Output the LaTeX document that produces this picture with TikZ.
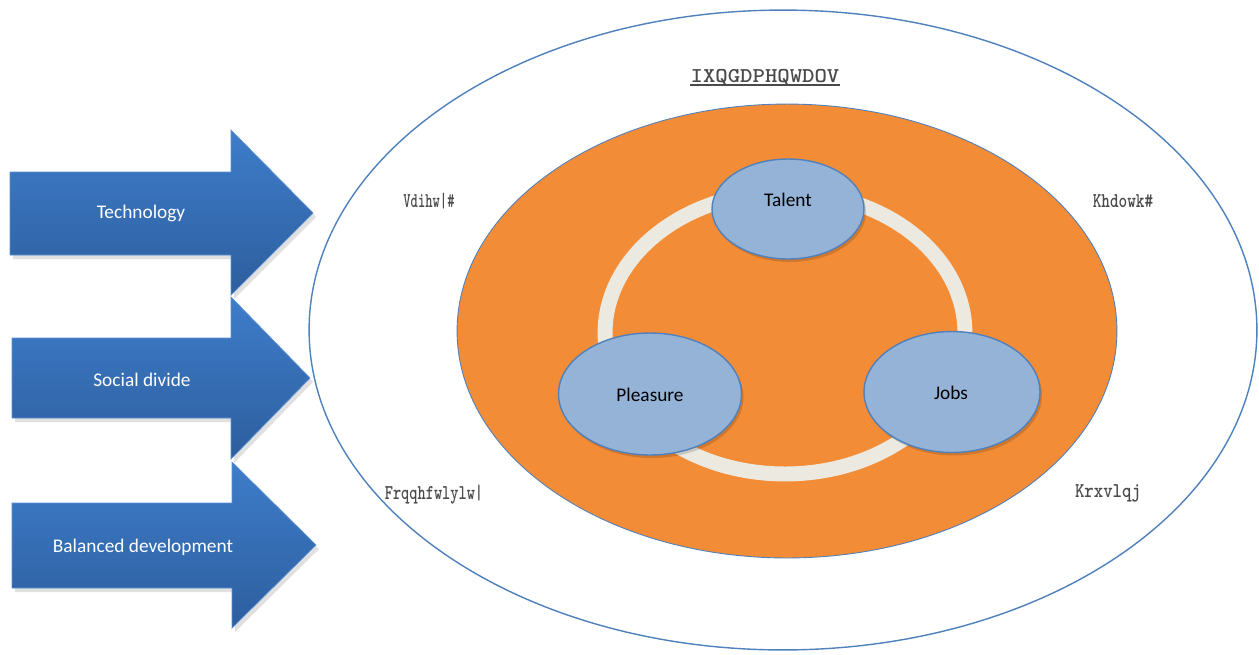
\documentclass[tikz,border=0pt]{standalone}
\usepackage{fontspec}
\setmainfont{Carlito}
\usetikzlibrary{shapes.geometric}
\definecolor{orng}{HTML}{F38C36}
\definecolor{bluefill}{HTML}{95B3D7}
\definecolor{blueline}{HTML}{4F81BD}
\definecolor{arrtop}{HTML}{3E7DCA}
\definecolor{arrbot}{HTML}{2D5E9E}
\definecolor{ringc}{HTML}{ECEAE0}
\definecolor{labgray}{HTML}{4A4A4A}
\begin{document}
\begin{tikzpicture}[x=0.02cm,y=-0.02cm,
  font=\fontsize{11}{13}\selectfont,
  arrowbody/.style={top color=arrtop,bottom color=arrbot,draw=arrtop!85!white,line width=0.4pt},
  arrshadow/.style={fill=black,opacity=0.12},
  arrtext/.style={text=white,inner sep=0pt},
  bubble/.style={ellipse,draw=blueline,line width=0.8pt,fill=bluefill,inner sep=0pt},
  bubtext/.style={text=black,inner sep=0pt},
  outerlab/.style={text=labgray,inner sep=0pt,font=\ttfamily\bfseries\fontsize{12}{14}\selectfont}]
\useasboundingbox (0,0) rectangle (1259,654);

% outer ellipse
\draw[blueline,line width=0.8pt,fill=white] (783,330) ellipse [x radius=9.48cm,y radius=6.4cm];
% orange ellipse
\draw[blueline,line width=0.5pt,fill=orng] (787,331) ellipse [x radius=6.6cm,y radius=4.54cm];
% ring
\draw[ringc,line width=8.5pt] (785,333) ellipse [x radius=3.6cm,y radius=2.82cm];

% bubbles
\fill[black,opacity=0.15] (790,212) ellipse [x radius=1.52cm,y radius=1.0cm];
\fill[black,opacity=0.15] (652,397) ellipse [x radius=1.83cm,y radius=1.22cm];
\fill[black,opacity=0.15] (954,395) ellipse [x radius=1.76cm,y radius=1.21cm];
\node[bubble,minimum width=3.04cm,minimum height=2.0cm] (talent) at (788,209) {};
\node[bubble,minimum width=3.66cm,minimum height=2.44cm] (pleasure) at (650,394) {};
\node[bubble,minimum width=3.52cm,minimum height=2.42cm] (jobs) at (952,392) {};
\node[bubtext] (talentt) at (788,200) {Talent};
\node[bubtext] (pleasuret) at (650,395) {Pleasure};
\node[bubtext] (jobst) at (951,393) {Jobs};

% arrows
\path[arrshadow] (13,176) -- (234,176) -- (234,134) -- (316,217) -- (234,299) -- (234,259) -- (13,259) -- cycle;
\path[arrowbody] (10,172) -- (231,172) -- (231,130) -- (313,213) -- (231,295) -- (231,255) -- (10,255) -- cycle;
\path[arrshadow] (15,342) -- (234,342) -- (234,301) -- (313,382) -- (234,463) -- (234,422) -- (15,422) -- cycle;
\path[arrowbody] (12,338) -- (231,338) -- (231,297) -- (310,378) -- (231,459) -- (231,418) -- (12,418) -- cycle;
\path[arrshadow] (15,507) -- (235,507) -- (235,466) -- (319,549) -- (235,632) -- (235,592) -- (15,592) -- cycle;
\path[arrowbody] (12,503) -- (232,503) -- (232,462) -- (316,545) -- (232,628) -- (232,588) -- (12,588) -- cycle;
\node[arrtext] (tech) at (141,213) {Technology};
\node[arrtext] (soc) at (142,380) {Social divide};
\node[arrtext] (bal) at (143,547) {Balanced development};

% outer labels
\node[outerlab] (fund) at (765,77) {\scalebox{1.12}[1]{IXQGDPHQWDOV}};
\draw[labgray,line width=1.3pt] (690,85) -- (840,85);
\node[outerlab] (saf) at (429,201) {\scalebox{0.66}[1]{Vdihw|\#}};
\node[outerlab] (hea) at (1123,201) {\scalebox{0.78}[1]{Khdowk\#}};
\node[outerlab] (con) at (434,495) {\scalebox{0.74}[1]{Frqqhfwlylw|}};
\node[outerlab] (hou) at (1108,493) {\scalebox{0.85}[1]{Krxvlqj}};
\end{tikzpicture}
\end{document}
